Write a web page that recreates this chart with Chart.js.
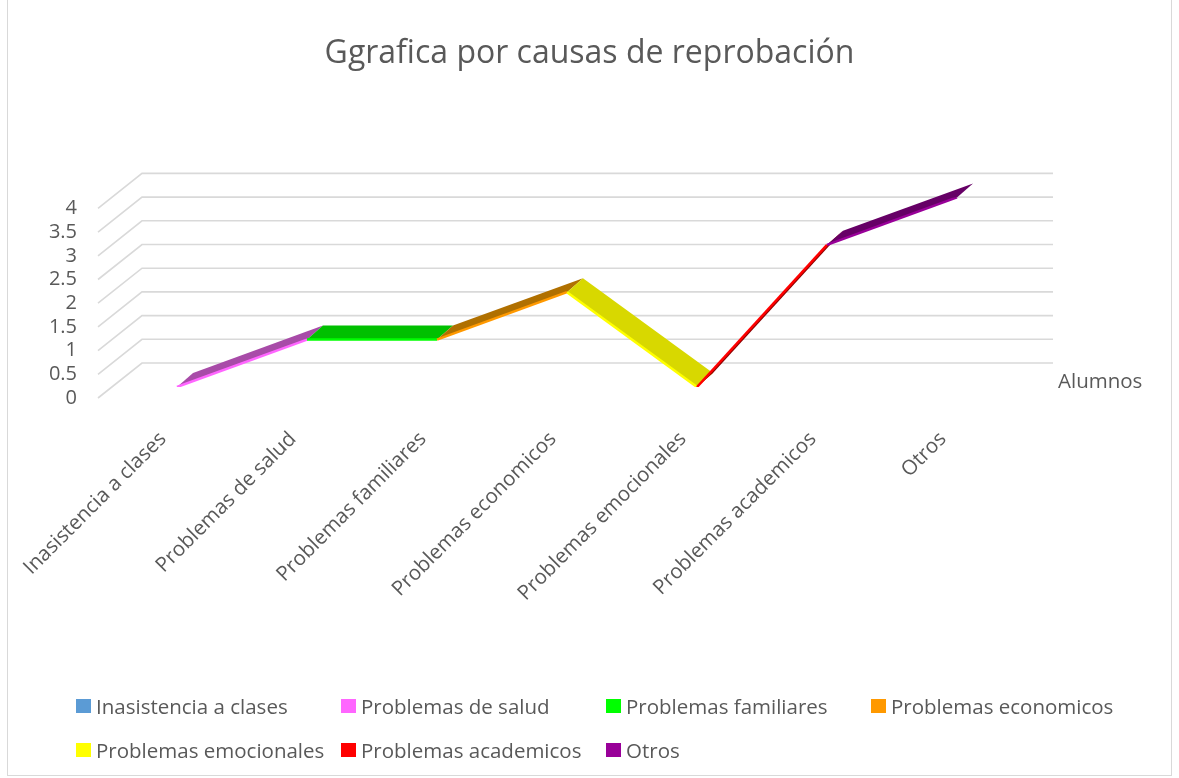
<!DOCTYPE html>
<html>
<head>
<meta charset="utf-8">
<script src="https://cdn.jsdelivr.net/npm/chart.js@4"></script>
<style>
  body { margin: 0; background: #fff; font-family: 'Open Sans', sans-serif; }
  #wrap { position: relative; width: 1179px; height: 778px; overflow: hidden; }
  #frame { position: absolute; left: 7px; top: -1px; width: 1165px; height: 777px; border: 1px solid #d9d9d9; box-sizing: border-box; }
  #chart { position: absolute; left: 0; top: 0; }
  #legend { position: absolute; left: 76px; top: 693px; display: grid; grid-template-columns: repeat(4, 265px); grid-auto-rows: 44px; }
  #legend div { display: flex; align-items: center; height: 26px; color: #595959; font-size: 20.5px; white-space: nowrap; }
  #legend span { display: inline-block; width: 15px; height: 14px; margin-right: 5px; flex: none; }
</style>
</head>
<body>
<div id="wrap">
  <div id="frame"></div>
  <canvas id="chart" width="1179" height="778"></canvas>
  <div id="legend"></div>
</div>
<script>
  // categories and values
  const categories = [
    "Inasistencia a clases",
    "Problemas de salud",
    "Problemas familiares",
    "Problemas economicos",
    "Problemas emocionales",
    "Problemas academicos",
    "Otros"
  ];
  const alumnos = [0, 1, 1, 2, 0, 3, 4];
  const seriesName = "Alumnos";
  const yMax = 4;
  const yStep = 0.5;

  // colours per category (legend / front edge) and the darker ribbon face
  const legendColors = ['#5B9BD5', '#FF66FF', '#00FF00', '#FF9900', '#FFFF00', '#FF0000', '#990099'];
  const faceColors = ['#41719C', '#A84BA8', '#00C000', '#B07000', '#D8D800', '#8B0000', '#660066'];

  const grey = '#595959';

  // 3D look: gridlines run from the front plane to the back wall
  const depthGrid = {
    id: 'depthGrid',
    beforeDatasetsDraw(chart) {
      const { ctx, chartArea: a, scales: { y } } = chart;
      ctx.save();
      ctx.strokeStyle = '#d9d9d9';
      ctx.lineWidth = 1.6;
      y.ticks.forEach(t => {
        const py = y.getPixelForValue(t.value);
        ctx.beginPath();
        ctx.moveTo(a.left - 79, py + 11);
        ctx.lineTo(a.left - 35, py - 24);
        ctx.lineTo(a.right + 96, py - 24);
        ctx.stroke();
      });

      // ribbon top faces
      const pts = chart.getDatasetMeta(0).data;
      for (let i = 1; i < pts.length; i++) {
        const p0 = pts[i - 1], p1 = pts[i];
        ctx.fillStyle = faceColors[i];
        ctx.beginPath();
        ctx.moveTo(p0.x, p0.y);
        ctx.lineTo(p1.x, p1.y);
        ctx.lineTo(p1.x + 16, p1.y - 14);
        ctx.lineTo(p0.x + 16, p0.y - 14);
        ctx.closePath();
        ctx.fill();
      }

      // series name on the depth axis
      ctx.fillStyle = grey;
      ctx.font = "20.5px 'Open Sans'";
      ctx.textBaseline = 'middle';
      ctx.fillText(seriesName, a.right + 101, y.getPixelForValue(0) - 5);
      ctx.restore();
    }
  };

  const ctx = document.getElementById('chart').getContext('2d');
  new Chart(ctx, {
    type: 'line',
    data: {
      labels: categories,
      datasets: [{
        label: seriesName,
        data: alumnos,
        borderWidth: 2.5,
        pointRadius: 0,
        borderCapStyle: 'butt',
        segment: {
          borderColor: c => legendColors[c.p1DataIndex]
        }
      }]
    },
    options: {
      responsive: false,
      devicePixelRatio: 1,
      animation: false,
      layout: { padding: 0 },
      plugins: {
        legend: { display: false },
        tooltip: { enabled: false },
        title: {
          display: true,
          text: 'Ggrafica por causas de reprobación',
          color: grey,
          font: { family: "'Open Sans'", size: 32, weight: 'normal' },
          padding: { top: 35, bottom: 124 }
        }
      },
      scales: {
        x: {
          offset: false,
          grid: { display: false, drawTicks: false },
          border: { display: false },
          ticks: {
            color: grey,
            font: { family: "'Open Sans'", size: 20.5 },
            minRotation: 45,
            maxRotation: 45,
            autoSkip: false,
            padding: 40,
            labelOffset: -14
          },
          afterFit: s => { s.height = 391; }
        },
        y: {
          min: 0,
          max: yMax,
          grid: { display: false, drawTicks: false },
          border: { display: false },
          ticks: {
            stepSize: yStep,
            color: grey,
            font: { family: "'Open Sans'", size: 20, lineHeight: 1 },
            padding: 100,
            labelOffset: 11,
            callback: v => String(v)
          },
          afterFit: s => { s.width = 177; }
        },
        // empty right-hand box that leaves room for the back wall
        side: {
          type: 'linear',
          position: 'right',
          grid: { display: false, drawTicks: false },
          border: { display: false },
          ticks: { display: false },
          afterFit: s => { s.width = 222; }
        }
      }
    },
    plugins: [depthGrid]
  });

  // legend laid out in a grid like the original
  const legend = document.getElementById('legend');
  categories.forEach((name, i) => {
    const item = document.createElement('div');
    item.innerHTML = `<span style="background:${legendColors[i]}"></span>${name}`;
    legend.appendChild(item);
  });
</script>
</body>
</html>
